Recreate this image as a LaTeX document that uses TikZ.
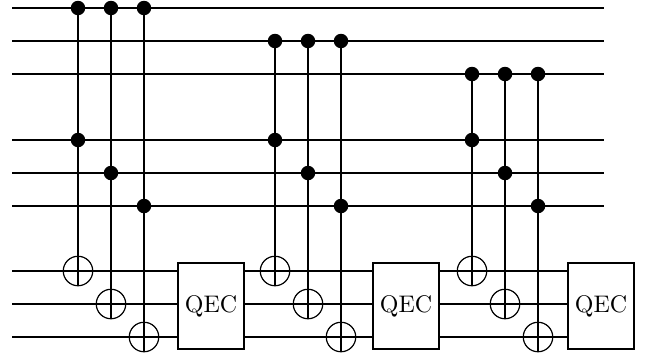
\documentclass[tikz,border=0pt]{standalone}
\tikzset{
  wire/.style={line width=1.4pt, black},
  ctrl/.style={circle, fill=black, draw=none, minimum size=14.5pt, inner sep=0pt},
  targ/.style={circle, draw, line width=1.2pt, minimum size=29.5pt, inner sep=0pt},
  qec/.style={draw, line width=1.4pt, fill=white, minimum width=66pt, minimum height=86pt, inner sep=0pt},
}
\begin{document}
\begin{tikzpicture}[x=1pt,y=-1pt]
\useasboundingbox (0,0) rectangle (648,354);
% wire ends
\foreach \n/\y in {1/8,2/41,3/74,4/140,5/173,6/206} {
  \coordinate (L\n) at (12,\y);
  \coordinate (R\n) at (604,\y);
  \draw[wire] (L\n) -- (R\n);
}
\foreach \n/\y in {7/271,8/304,9/337} {
  \coordinate (L\n) at (12,\y);
}
% QEC boxes
\node[qec] (Q1) at (211,306) {\scalebox{2.4}{QEC}};
\node[qec] (Q2) at (406,306) {\scalebox{2.4}{QEC}};
\node[qec] (Q3) at (601,306) {\scalebox{2.4}{QEC}};
\foreach \n in {7,8,9} {
  \draw[wire] (L\n) -- (Q1.west |- L\n);
  \draw[wire] (Q1.east |- L\n) -- (Q2.west |- L\n);
  \draw[wire] (Q2.east |- L\n) -- (Q3.west |- L\n);
}
% gates: name / x / top control / lower control / target
\foreach \g/\x/\c/\d/\t in {
  a/78/1/4/7, b/111/1/5/8, c/144/1/6/9,
  d/275/2/4/7, e/308/2/5/8, f/341/2/6/9,
  g/472/3/4/7, h/505/3/5/8, i/538/3/6/9} {
  \node[ctrl] (\g c) at (\x,0 |- L\c) {};
  \node[ctrl] (\g d) at (\x,0 |- L\d) {};
  \node[targ] (\g t) at (\x,0 |- L\t) {};
  \draw[wire] (\g c.center) -- (\g t.south);
}
\end{tikzpicture}
\end{document}
